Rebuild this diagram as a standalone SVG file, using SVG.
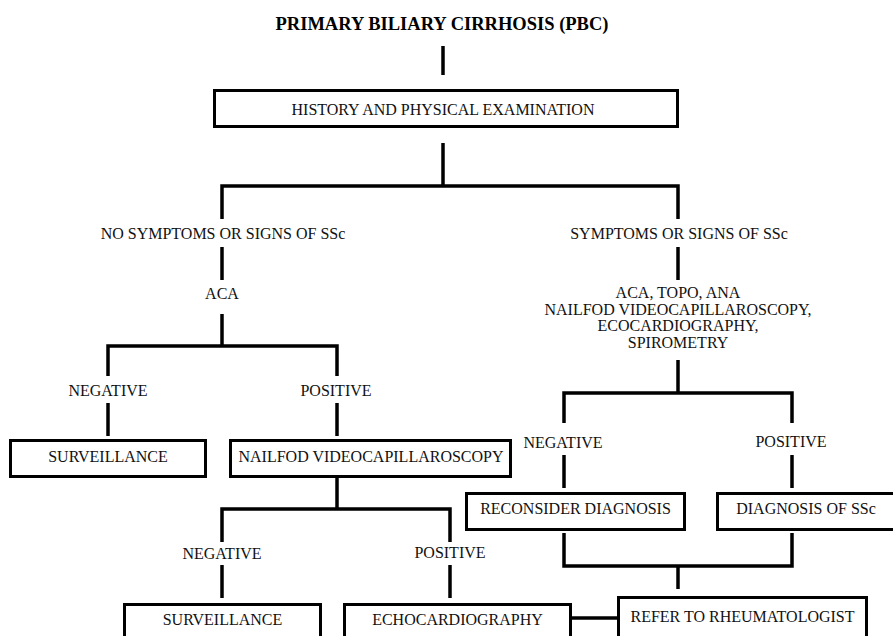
<svg xmlns="http://www.w3.org/2000/svg" width="893" height="636" viewBox="0 0 893 636">
<style>
  .box { fill: #ffffff; stroke: #000000; stroke-width: 3; }
  .t { font-family: "Liberation Serif", "Times New Roman", serif; font-size: 16px; fill: #111111; text-anchor: middle; }
  .title { font-family: "Liberation Serif", "Times New Roman", serif; font-size: 18.5px; font-weight: bold; fill: #000000; text-anchor: middle; }
  .conn { fill: none; stroke: #000000; stroke-width: 3.5; stroke-linecap: butt; stroke-linejoin: miter; }
</style>
<rect x="0" y="0" width="893" height="636" fill="#ffffff"/>
<g id="connectors">
  <path class="conn" d="M443 46V75"/>
  <path class="conn" d="M443 143V186"/>
  <path class="conn" d="M222 219V186H678V219"/>
  <path class="conn" d="M222 247V280"/>
  <path class="conn" d="M222 314V346"/>
  <path class="conn" d="M108 376V346H337V376"/>
  <path class="conn" d="M108 403V436"/>
  <path class="conn" d="M337 403V436"/>
  <path class="conn" d="M337 478V509"/>
  <path class="conn" d="M222 542V509H450V542"/>
  <path class="conn" d="M222 565V598"/>
  <path class="conn" d="M450 565V598"/>
  <path class="conn" d="M678 247V280"/>
  <path class="conn" d="M678 360V393"/>
  <path class="conn" d="M564 423V393H792V423"/>
  <path class="conn" d="M564 455V488"/>
  <path class="conn" d="M792 455V488"/>
  <path class="conn" d="M564 533V566H792V533"/>
  <path class="conn" d="M678 566V589"/>
  <path class="conn" d="M572 618H617"/>
</g>
<g id="title"><text class="title" x="442" y="30">PRIMARY BILIARY CIRRHOSIS (PBC)</text></g>
<g id="history">
  <rect class="box" x="214.5" y="90.5" width="463" height="36"/>
  <text class="t" x="443" y="114.5">HISTORY AND PHYSICAL EXAMINATION</text>
</g>
<g id="no-symptoms"><text class="t" x="223" y="238.5">NO SYMPTOMS OR SIGNS OF SSc</text></g>
<g id="symptoms"><text class="t" x="679" y="238.5">SYMPTOMS OR SIGNS OF SSc</text></g>
<g id="aca"><text class="t" x="222" y="299">ACA</text></g>
<g id="tests">
  <text class="t" x="678" y="298">ACA, TOPO, ANA</text>
  <text class="t" x="678" y="314.5">NAILFOD VIDEOCAPILLAROSCOPY,</text>
  <text class="t" x="678" y="331">ECOCARDIOGRAPHY,</text>
  <text class="t" x="678" y="347.5">SPIROMETRY</text>
</g>
<g id="neg1"><text class="t" x="108" y="395.5">NEGATIVE</text></g>
<g id="pos1"><text class="t" x="336" y="395.5">POSITIVE</text></g>
<g id="surveillance1">
  <rect class="box" x="10.5" y="440.5" width="195" height="36"/>
  <text class="t" x="108" y="462">SURVEILLANCE</text>
</g>
<g id="nailfod">
  <rect class="box" x="230.5" y="440.5" width="280" height="36"/>
  <text class="t" x="371" y="462">NAILFOD VIDEOCAPILLAROSCOPY</text>
</g>
<g id="neg2"><text class="t" x="222" y="558.5">NEGATIVE</text></g>
<g id="pos2"><text class="t" x="450" y="558">POSITIVE</text></g>
<g id="surveillance2">
  <rect class="box" x="124.5" y="604.5" width="196" height="40"/>
  <text class="t" x="222.5" y="625">SURVEILLANCE</text>
</g>
<g id="echo">
  <rect class="box" x="344.5" y="604.5" width="226" height="40"/>
  <text class="t" x="457.5" y="625">ECHOCARDIOGRAPHY</text>
</g>
<g id="neg3"><text class="t" x="563" y="447.5">NEGATIVE</text></g>
<g id="pos3"><text class="t" x="791" y="447">POSITIVE</text></g>
<g id="reconsider">
  <rect class="box" x="466.5" y="493.5" width="218" height="36"/>
  <text class="t" x="575.5" y="514">RECONSIDER DIAGNOSIS</text>
</g>
<g id="diagnosis">
  <rect class="box" x="717.5" y="493.5" width="177" height="36"/>
  <text class="t" x="806" y="514">DIAGNOSIS OF SSc</text>
</g>
<g id="refer">
  <rect class="box" x="618.5" y="597.5" width="248" height="45"/>
  <text class="t" x="742.5" y="622">REFER TO RHEUMATOLOGIST</text>
</g>
</svg>
